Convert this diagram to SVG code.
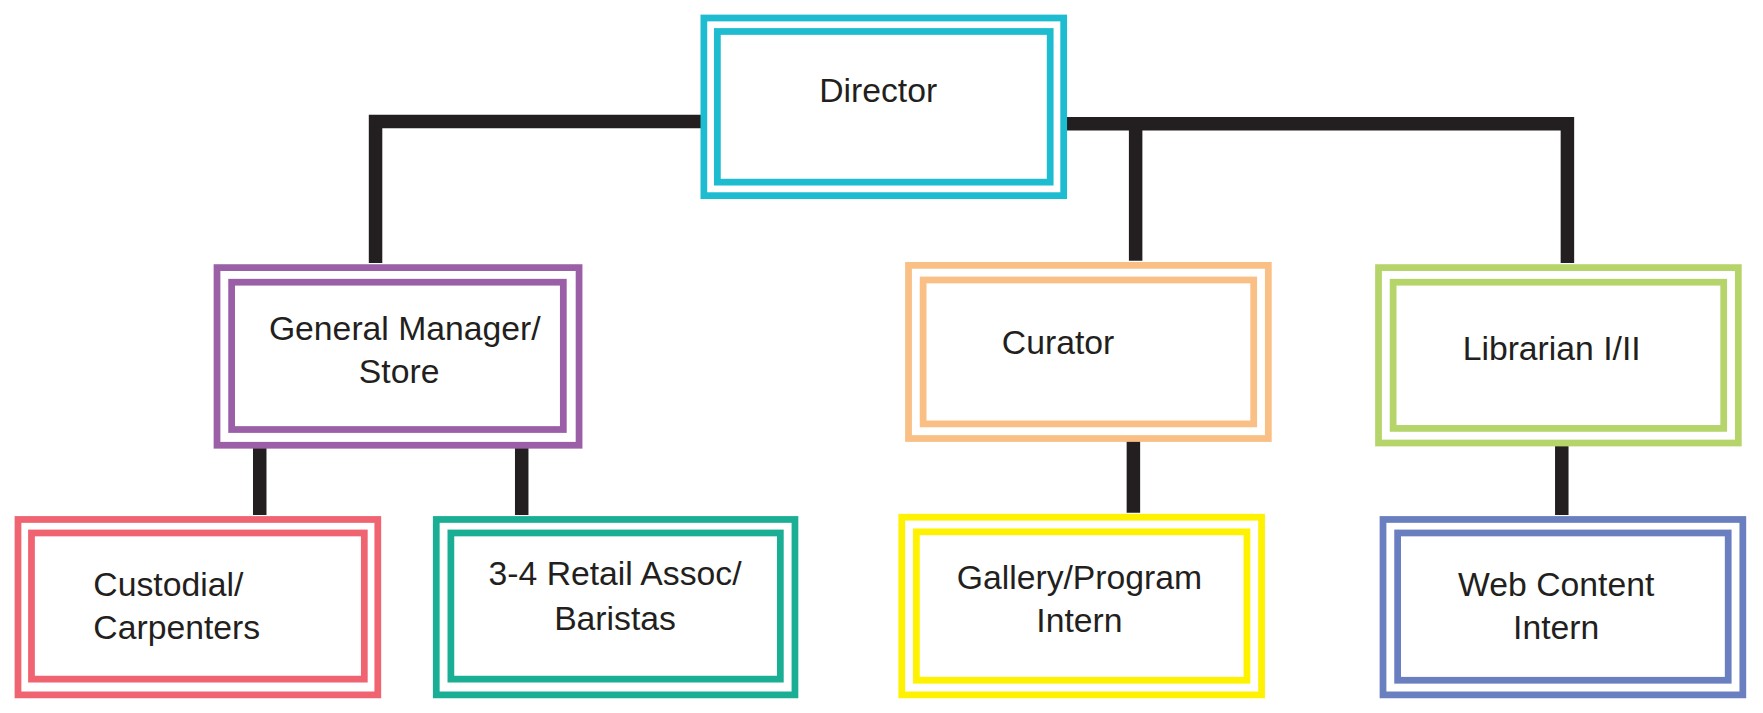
<svg xmlns="http://www.w3.org/2000/svg" width="1763" height="713" viewBox="0 0 1763 713">
<style>
rect{fill:none;stroke-width:6}
text{font-family:"Liberation Sans",Arial,sans-serif;font-size:30px;fill:#231f20;stroke:none;text-anchor:middle}
.c{fill:none;stroke:#231f20;stroke-width:12}
</style>
<rect width="1763" height="713" fill="#fff" stroke="none"/>
<g transform="scale(1.1244)">
<g id="connectors">
<polyline class="c" points="624,108 334,108 334,234"/>
<polyline class="c" points="948,110 1394,110 1394,234"/>
<line class="c" x1="1010" y1="110" x2="1010" y2="232"/>
<line class="c" x1="231" y1="398" x2="231" y2="458"/>
<line class="c" x1="464" y1="398" x2="464" y2="458"/>
<line class="c" x1="1008" y1="392" x2="1008" y2="456"/>
<line class="c" x1="1389" y1="396" x2="1389" y2="458"/>
</g>
<g id="director" stroke="#1ebcd0"><rect x="626" y="16" width="320" height="158"/><rect x="638" y="28" width="296" height="134"/><text x="781" y="91">Director</text></g>
<g id="gm" stroke="#9b5fa8"><rect x="193" y="238" width="322" height="158"/><rect x="206" y="251" width="295" height="131"/><text x="360" y="302">General Manager/</text><text x="355" y="341">Store</text></g>
<g id="custodial" stroke="#ef6470"><rect x="16" y="462" width="320" height="156"/><rect x="28" y="474" width="296" height="130"/><text x="83" y="530" style="text-anchor:start">Custodial/</text><text x="83" y="568" style="text-anchor:start">Carpenters</text></g>
<g id="retail" stroke="#1aaf94"><rect x="388" y="462" width="319" height="156"/><rect x="401" y="474" width="293" height="130"/><text x="547" y="520">3-4 Retail Assoc/</text><text x="547" y="560">Baristas</text></g>
<g id="curator" stroke="#f9bf85"><rect x="808" y="236" width="320" height="154"/><rect x="821" y="249" width="294" height="128"/><text x="941" y="315">Curator</text></g>
<g id="gallery" stroke="#fff200"><rect x="802" y="460" width="320" height="158"/><rect x="815" y="473" width="294" height="132"/><text x="960" y="524">Gallery/Program</text><text x="960" y="562">Intern</text></g>
<g id="librarian" stroke="#b5d56a"><rect x="1226" y="238" width="320" height="156"/><rect x="1239" y="251" width="294" height="130"/><text x="1380" y="320">Librarian I/II</text></g>
<g id="web" stroke="#6a7fc0"><rect x="1230" y="462" width="320" height="156"/><rect x="1243" y="474" width="294" height="131"/><text x="1384" y="530">Web Content</text><text x="1384" y="568">Intern</text></g>
</g>
</svg>
